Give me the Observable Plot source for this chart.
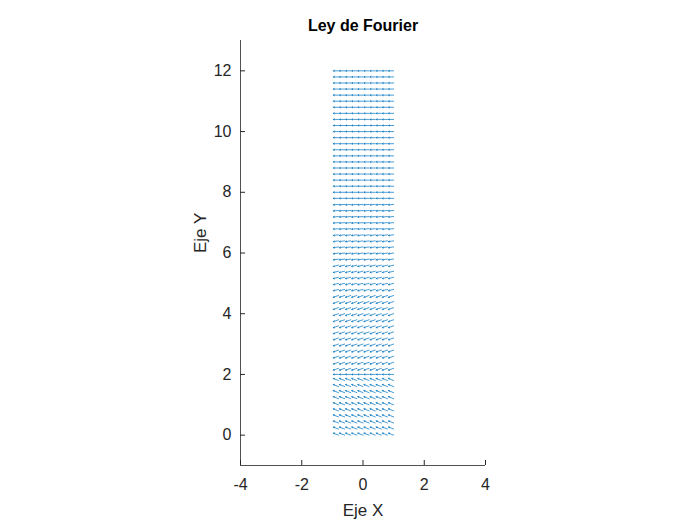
<!DOCTYPE html>
<html>
<head>
<meta charset="utf-8">
<script src="https://cdn.jsdelivr.net/npm/d3@7"></script>
<script src="https://cdn.jsdelivr.net/npm/@observablehq/plot@0.6"></script>
<style>
  html, body { margin: 0; padding: 0; background: #fff; }
  svg { font-family: "Liberation Sans", Arial, sans-serif; }
</style>
</head>
<body>
<div id="chart"></div>
<script>
const titleText = "Ley de Fourier";
const xLabel = "Eje X";
const yLabel = "Eje Y";
const xTicks = [-4, -2, 0, 2, 4];
const yTicks = [0, 2, 4, 6, 8, 10, 12];

// grid of arrow tails
const xs = [-1, -0.8, -0.6, -0.4, -0.2, 0, 0.2, 0.4, 0.6, 0.8, 1];
const ys = [0, 0.2, 0.4, 0.6, 0.8, 1, 1.2, 1.4, 1.6, 1.8,
            2, 2.2, 2.4, 2.6, 2.8, 3, 3.2, 3.4, 3.6, 3.8,
            4, 4.2, 4.4, 4.6, 4.8, 5, 5.2, 5.4, 5.6, 5.8,
            6, 6.2, 6.4, 6.6, 6.8, 7, 7.2, 7.4, 7.6, 7.8,
            8, 8.2, 8.4, 8.6, 8.8, 9, 9.2, 9.4, 9.6, 9.8,
            10, 10.2, 10.4, 10.6, 10.8, 11, 11.2, 11.4, 11.6, 11.8, 12];
// horizontal component of each column's vector (heat flows to the left)
const colU = [0, -0.17, -0.17, -0.17, -0.17, -0.17, -0.17, -0.17, -0.17, -0.17, -0.17];
// vertical/horizontal ratio of each row's vector
const rowSlope = [0.4, 0.4, 0.4, 0.4, 0.4, 0.4, 0.4, 0.4, 0.4, 0.4,
                  0,
                  -0.35, -0.35, -0.35, -0.35, -0.35, -0.35, -0.35, -0.35, -0.35, -0.35, -0.35, -0.35, -0.35,
                  -0.25, -0.25, -0.25, -0.25, -0.25,
                  -0.15, -0.15, -0.15, -0.15, -0.15,
                  -0.08, -0.08, -0.08, -0.08, -0.08,
                  0, 0, 0, 0, 0, 0, 0, 0, 0, 0, 0,
                  0, 0, 0, 0, 0, 0, 0, 0, 0, 0, 0];

const vectors = [];
ys.forEach((y, j) => {
  xs.forEach((x, i) => {
    const u = colU[i];
    const v = Math.abs(u) * rowSlope[j];
    if (u !== 0 || v !== 0) vectors.push({x1: x, y1: y, x2: x + u, y2: y + v});
  });
});

const axisColor = "#262626";

const chart = Plot.plot({
  width: 700,
  height: 525,
  marginLeft: 240,
  marginRight: 215,
  marginTop: 40,
  marginBottom: 60,
  style: {fontFamily: "'Liberation Sans', Arial, sans-serif", color: axisColor, background: "#fff"},
  x: {domain: [-4, 4]},
  y: {domain: [-1, 13]},
  marks: [
    Plot.arrow(vectors, {
      x1: "x1", y1: "y1", x2: "x2", y2: "y2",
      stroke: "#0072BD", strokeWidth: 0.7, headLength: 2.5
    }),
    Plot.ruleX([-4], {stroke: axisColor, strokeWidth: 0.8}),
    Plot.ruleY([-1], {stroke: axisColor, strokeWidth: 0.8}),
    Plot.axisX(xTicks, {
      tickSize: -5, tickPadding: 18, fontSize: 16, stroke: axisColor, fill: axisColor,
      tickFormat: d => String(d), label: null
    }),
    Plot.axisY(yTicks, {
      tickSize: -5, tickPadding: 14, fontSize: 16, stroke: axisColor, fill: axisColor,
      tickFormat: d => String(d), label: null
    }),
    Plot.text([xLabel], {frameAnchor: "bottom", dy: 50, fontSize: 17, fill: axisColor}),
    Plot.text([yLabel], {frameAnchor: "left", dx: -40, rotate: -90, fontSize: 17, fill: axisColor}),
    Plot.text([titleText], {frameAnchor: "top", dy: -21, fontSize: 16, fontWeight: "bold", fill: "#000"})
  ]
});
document.getElementById("chart").appendChild(chart);
</script>
</body>
</html>
